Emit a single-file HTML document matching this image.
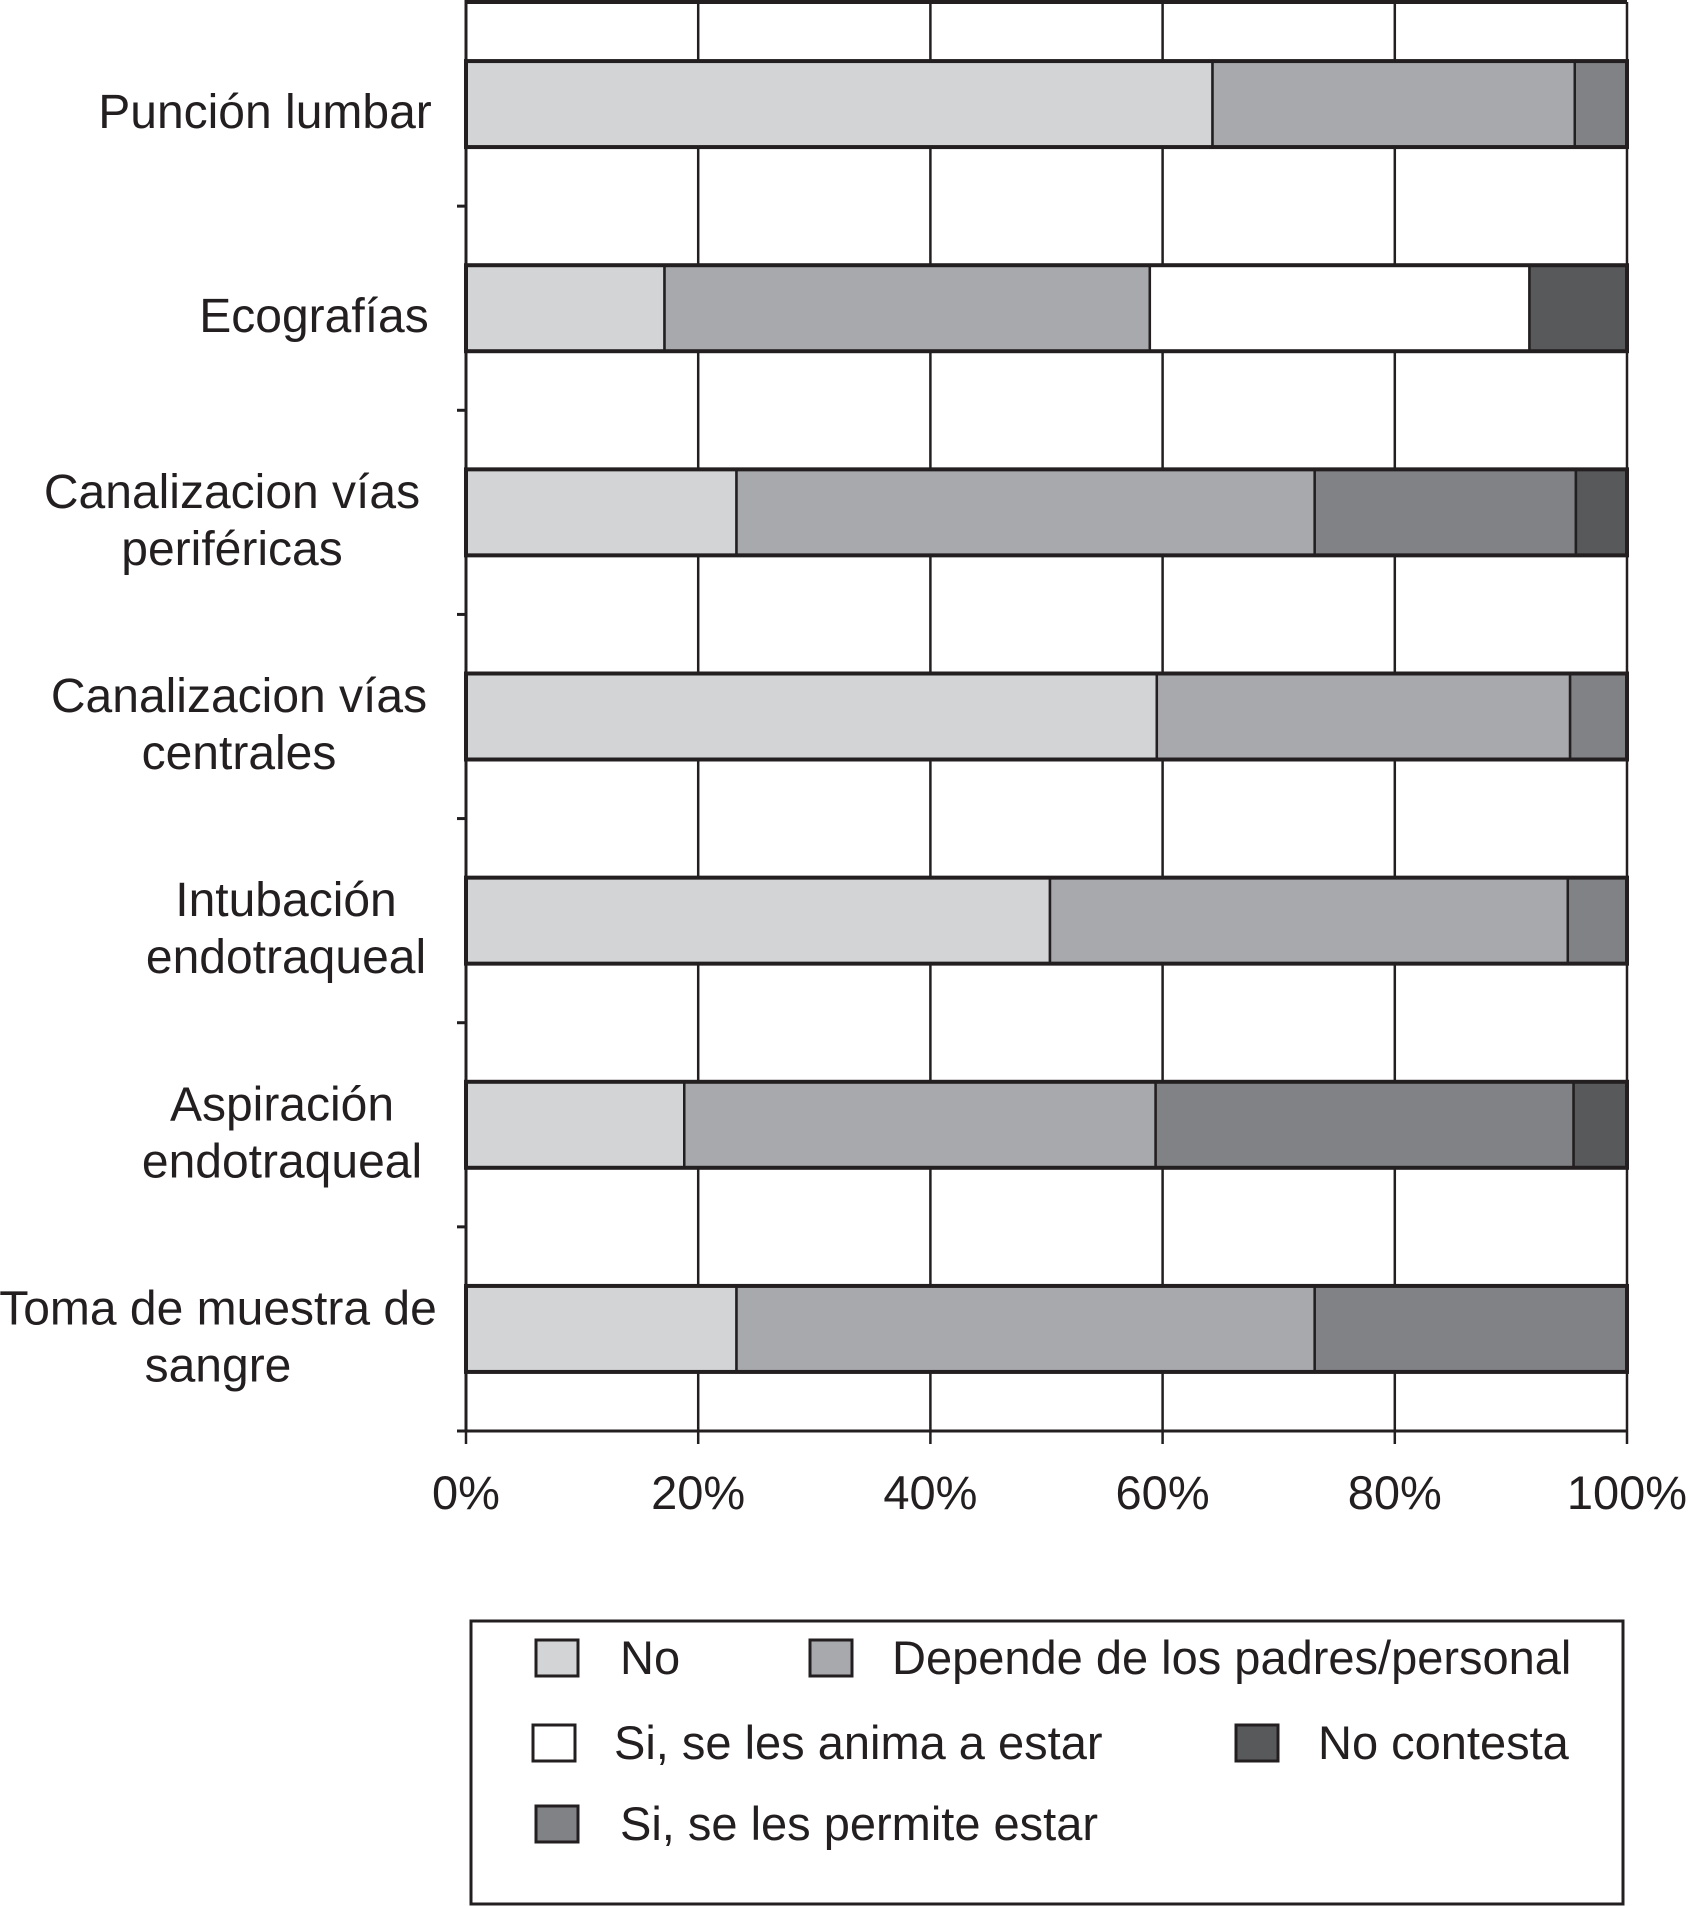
<!DOCTYPE html>
<html><head><meta charset="utf-8"><style>
html,body{margin:0;padding:0;background:#fff}
svg{display:block}
text{font-family:"Liberation Sans",sans-serif;fill:#231f20}
</style></head><body>
<svg id="chart" width="1689" height="1906" viewBox="0 0 1689 1906" xmlns="http://www.w3.org/2000/svg">
<g id="grid"></g>
<g id="bars"></g>
<g id="axes"></g>
<g id="labels"></g>
<g id="ticks"></g>
<g id="legend">
<rect x="471" y="1621" width="1152" height="283" fill="#fff" stroke="#231f20" stroke-width="3"/>
</g>
</svg>
<script>
const categories = [["Punción lumbar"],["Ecografías"],["Canalizacion vías","periféricas"],["Canalizacion vías","centrales"],["Intubación","endotraqueal"],["Aspiración","endotraqueal"],["Toma de muestra de","sangre"]];
const seriesNames = ["No","Depende de los padres/personal","Si, se les anima a estar","Si, se les permite estar","No contesta"];
const seriesColors = ["#d3d4d6","#a8a9ac","#ffffff","#818285","#58595b"];
const sNo = [64.3,17.1,23.3,59.5,50.3,18.8,23.3];
const sDepende = [31.2,41.8,49.8,35.6,44.6,40.6,49.8];
const sAnima = [0,32.7,0,0,0,0,0];
const sPermite = [4.5,0,22.5,4.9,5.1,36.0,26.9];
const sNoContesta = [0,8.4,4.4,0,0,4.6,0];
const xTicks = [0,20,40,60,80,100];
const xTickLabels = ["0%","20%","40%","60%","80%","100%"];

const NS="http://www.w3.org/2000/svg";
const X0=466,X1=1627,Y0=2,Y1=1431;
const labelCx=[265,314,232,239,286,282,218];
const band=(Y1-Y0)/categories.length, barH=86;
const xs=v=>X0+(X1-X0)*v/100;
const yc=i=>Y0+band*(i+0.5);
function mk(tag,attrs,parent){const e=document.createElementNS(NS,tag);for(const k in attrs)e.setAttribute(k,attrs[k]);parent.appendChild(e);return e;}
const gridG=document.getElementById('grid'),barsG=document.getElementById('bars'),axesG=document.getElementById('axes'),labelsG=document.getElementById('labels'),ticksG=document.getElementById('ticks'),legendG=document.getElementById('legend');
xTicks.forEach((t,i)=>{
  const l=mk('line',{x1:xs(t),x2:xs(t),y1:Y0,y2:Y1+13,stroke:'#231f20','stroke-width':2.5},gridG);
  
  
  const tx=mk('text',{x:xs(t),y:Y1+78,'font-size':47,'text-anchor':'middle'},ticksG);
  tx.textContent=xTickLabels[i];
  
  
});
const topBorder=mk('line',{x1:X0,x2:X1,y1:Y0,y2:Y0,stroke:'#231f20','stroke-width':4},axesG);


const series=[sNo,sDepende,sAnima,sPermite,sNoContesta];
categories.forEach((c,i)=>{
  let acc=0;
  series.forEach((s,j)=>{
    const v=s[i]; if(v<=0) return;
    const r=mk('rect',{x:xs(acc),y:yc(i)-barH/2,width:xs(acc+v)-xs(acc),height:barH,fill:seriesColors[j],stroke:'#231f20','stroke-width':2.5},barsG);
    
    
    acc+=v;
  });
  const ol=mk('rect',{x:X0,y:yc(i)-barH/2,width:xs(acc)-X0,height:barH,fill:'none',stroke:'#231f20','stroke-width':4},barsG);
  
  
  const n=c.length;
  c.forEach((line,k)=>{
    const t=mk('text',{x:labelCx[i],y:yc(i)+24+(k-(n-1)/2)*57,'font-size':48,'text-anchor':'middle'},labelsG);
    t.textContent=line;
    
    
  });
  const tk=mk('line',{x1:X0-9,x2:X0,y1:Y0+band*(i+1),y2:Y0+band*(i+1),stroke:'#231f20','stroke-width':3},axesG);
  
  
});
const ya=mk('line',{x1:X0,x2:X0,y1:0,y2:Y1,stroke:'#231f20','stroke-width':3},axesG);


const xa=mk('line',{x1:X0-8,x2:X1,y1:Y1,y2:Y1,stroke:'#231f20','stroke-width':3},axesG);


const leg=[[0,536,1658,620],[1,810,1658,892],[2,533,1743,614],[4,1236,1743,1318],[3,536,1824,620]];
leg.forEach(([s,sx,cy,tx])=>{
  const r=mk('rect',{x:sx,y:cy-18,width:42,height:36,fill:seriesColors[s],stroke:'#231f20','stroke-width':3},legendG);
  
  
  const t=mk('text',{x:tx,y:cy+16,'font-size':47},legendG);
  t.textContent=seriesNames[s];
  
  
});
</script>
</body></html>
